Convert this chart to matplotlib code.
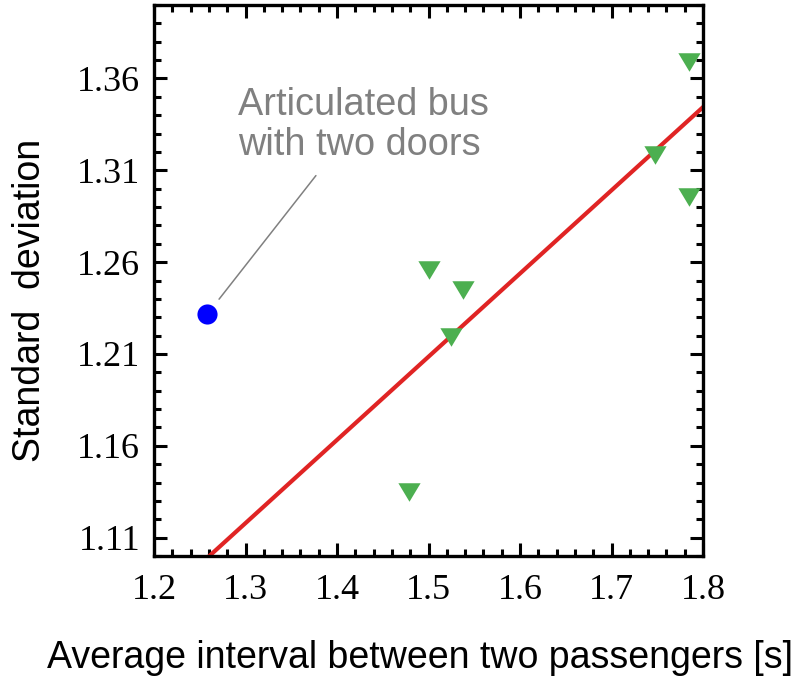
import matplotlib
matplotlib.use("Agg")
import numpy as np
import matplotlib.pyplot as plt
from matplotlib.ticker import MultipleLocator

# measured buses: mean interval between passengers vs. std deviation
bus_x = [1.479, 1.500, 1.525, 1.5375, 1.7475, 1.785, 1.785]
bus_y = [1.135, 1.2555, 1.219, 1.2447, 1.3186, 1.369, 1.2952]

# articulated bus with two doors
art_x = [1.258]
art_y = [1.2315]

# linear fit through the regular buses
fit_slope = 0.453
fit_intercept = 0.529

xticks = [1.2, 1.3, 1.4, 1.5, 1.6, 1.7, 1.8]
yticks = [1.11, 1.16, 1.21, 1.26, 1.31, 1.36]

fig = plt.figure(figsize=(8.11, 6.78), dpi=100)
ax = fig.add_axes([154 / 811, 1 - 556 / 678, 549 / 811, 551 / 678])

fx = np.array([1.2, 1.8])
ax.plot(fx, fit_intercept + fit_slope * fx, color="#e02424", lw=3, zorder=2)

tri = [(-1.2, 1.0), (1.2, 1.0), (0.0, -1.0)]
ax.plot(bus_x, bus_y, ls="none", marker=tri, ms=16, color="#4caf50",
        mec="none", zorder=3)
ax.plot(art_x, art_y, ls="none", marker="o", ms=14.5, color="#0000ff",
        mec="none", zorder=3)

# multi-line text: baseline alignment applies to the last line
ax.annotate("Articulated bus\nwith two doors", xy=(art_x[0], art_y[0]),
            xytext=(0.153, 0.7278), textcoords="axes fraction",
            ha="left", va="baseline", fontsize=27.3, color="#808080",
            family="Liberation Sans", linespacing=1.15,
            arrowprops=dict(arrowstyle="-", color="#808080", lw=1.1,
                            relpos=(0.35, 0.0), shrinkA=9, shrinkB=14))

ax.set_xlim(1.2, 1.8)
ax.set_ylim(1.10, 1.40)
ax.set_xticks(xticks)
ax.set_yticks(yticks)
ax.set_xticklabels([f"{v:.1f}" for v in xticks])
ax.set_yticklabels([f"{v:.2f}" for v in yticks])
ax.xaxis.set_minor_locator(MultipleLocator(0.02))
ax.yaxis.set_minor_locator(MultipleLocator(0.01))

ax.tick_params(which="both", direction="in", top=True, right=True, width=2.2)
ax.tick_params(which="major", length=9.5)
ax.tick_params(which="minor", length=5)
ax.tick_params(axis="y", pad=10)
ax.tick_params(axis="x", pad=13)
for lab in ax.get_xticklabels() + ax.get_yticklabels():
    lab.set_family("Liberation Serif")
    lab.set_fontsize(26)
for sp in ax.spines.values():
    sp.set_linewidth(2.4)

fig.text(30 / 811, 1 - 300 / 678, "Standard  deviation", rotation=90,
         ha="center", va="center", fontsize=27, family="Liberation Sans")
fig.text(420 / 811, 1 - 668 / 678, "Average interval between two passengers [s]",
         ha="center", va="baseline", fontsize=27, family="Liberation Sans")

fig.savefig("out.png", dpi=100)
